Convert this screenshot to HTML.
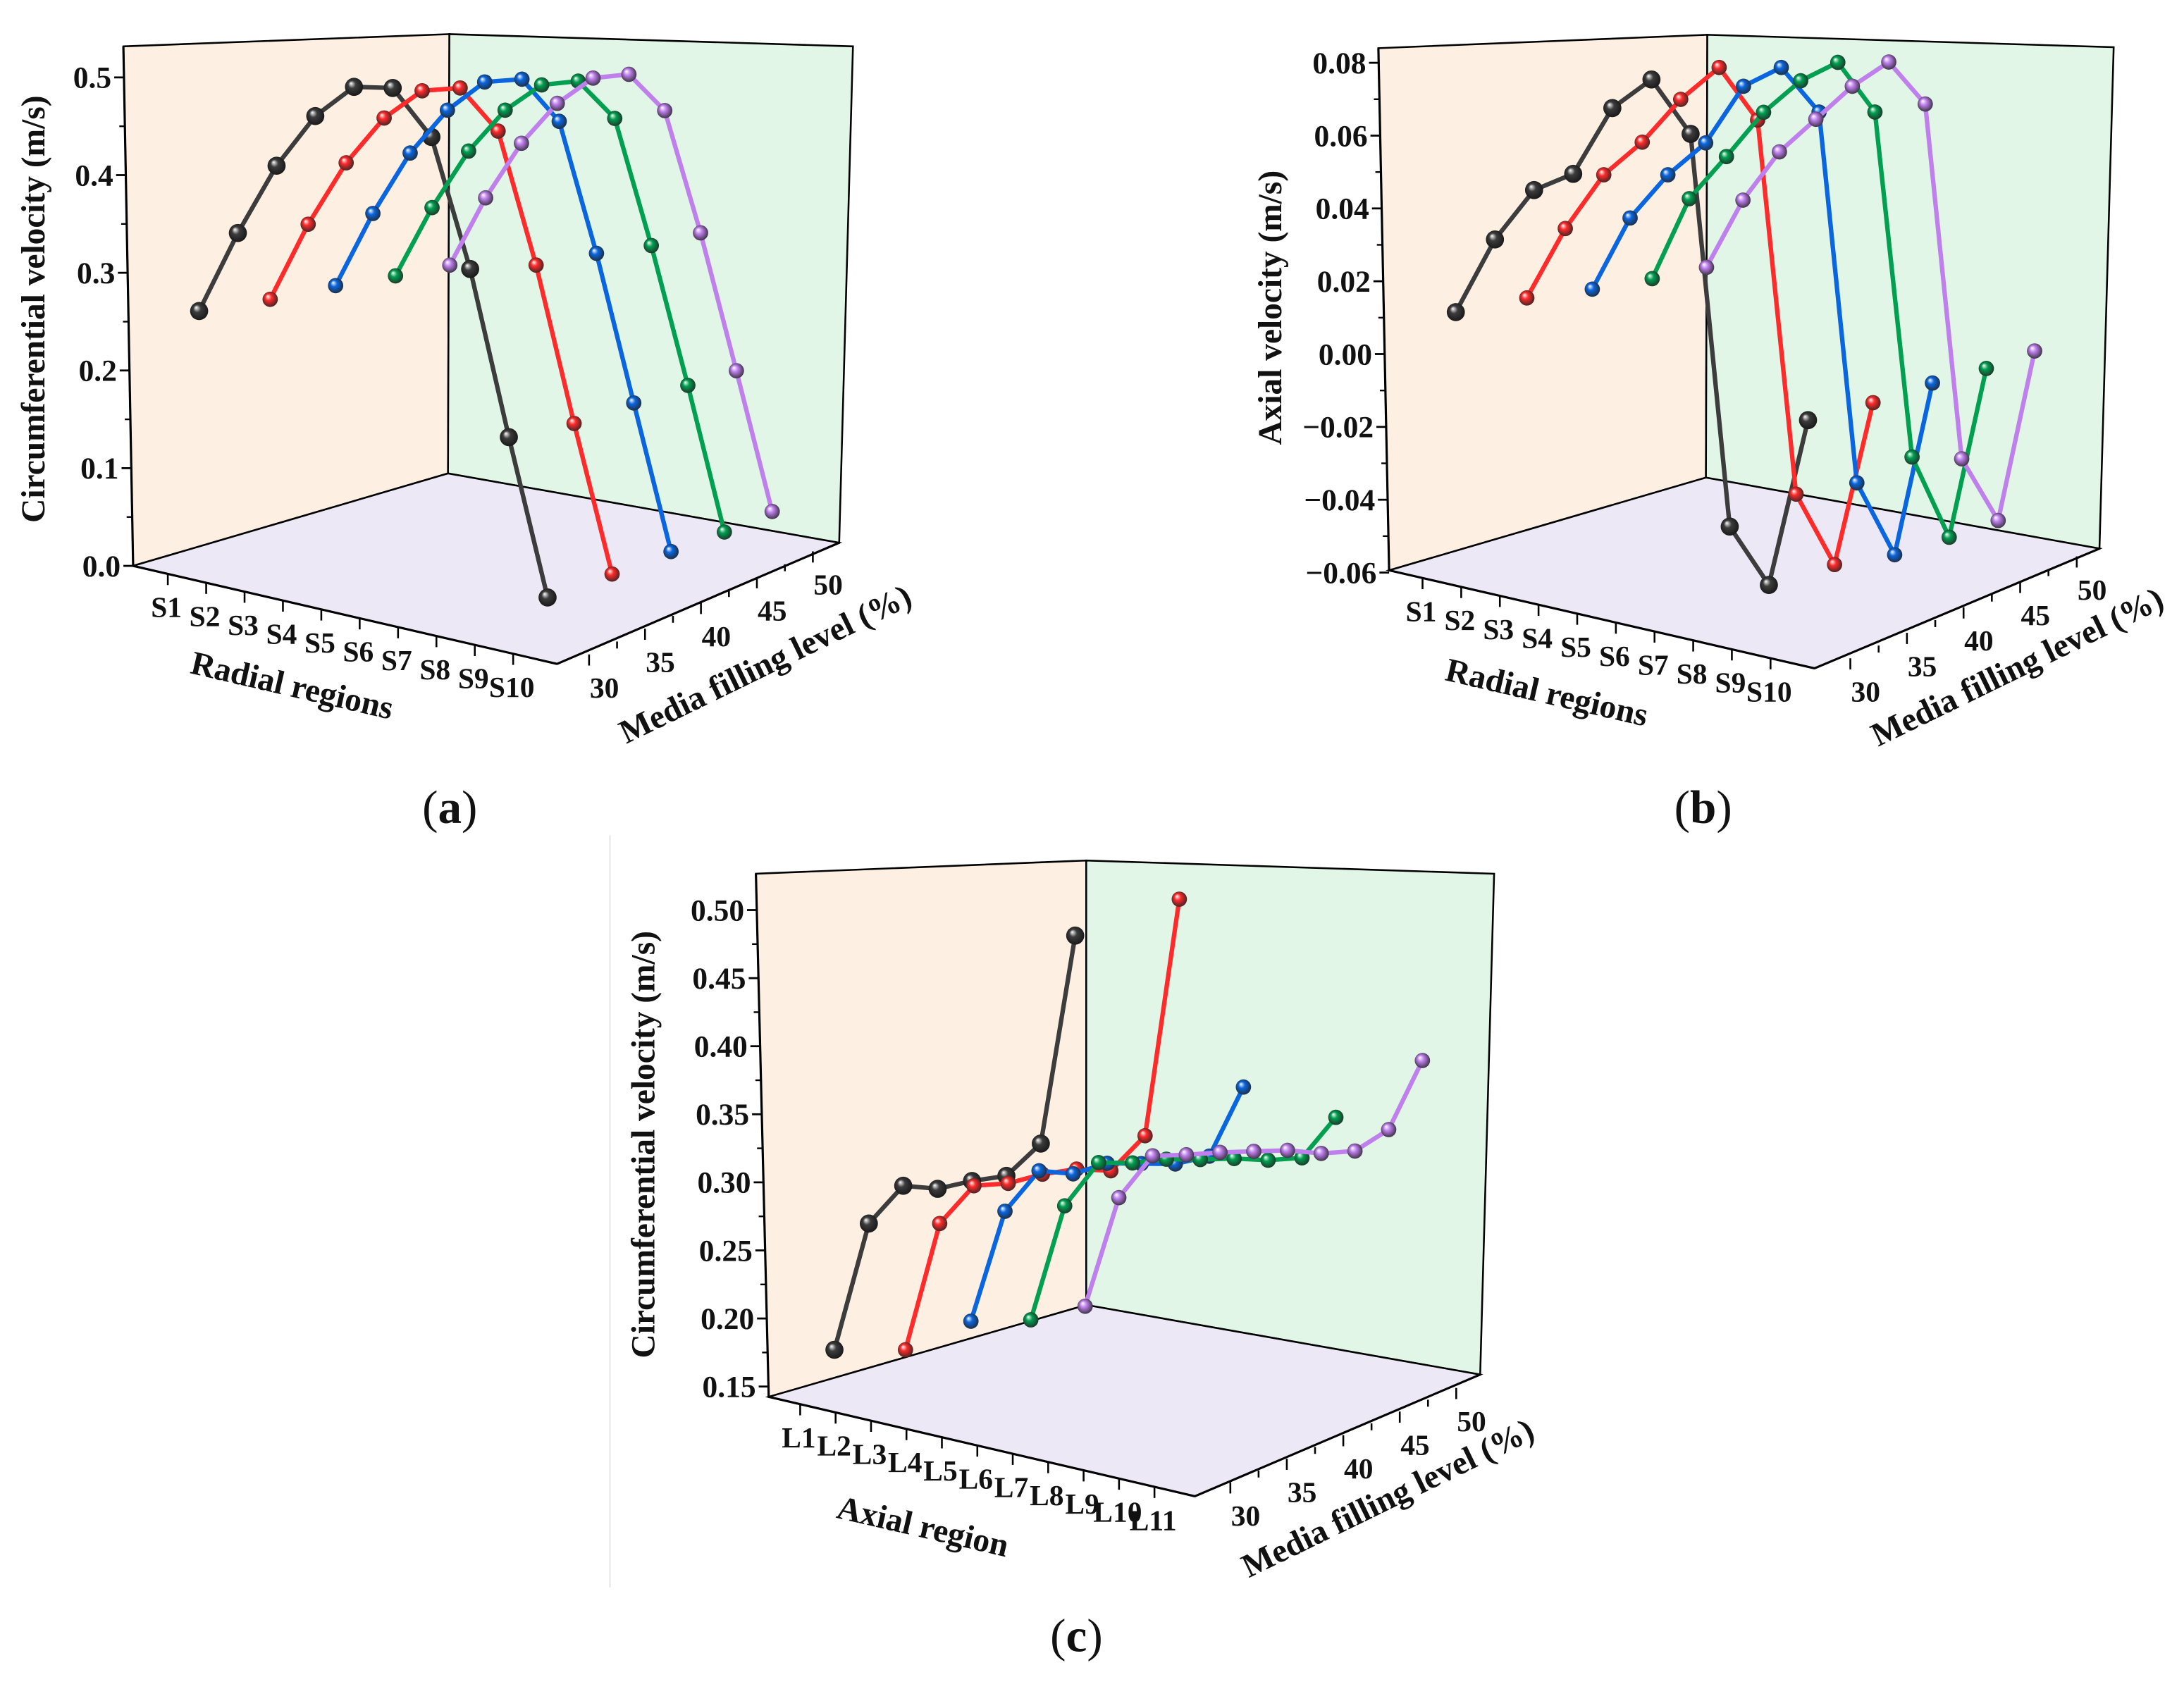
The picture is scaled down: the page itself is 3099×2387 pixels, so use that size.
<!DOCTYPE html>
<html><head><meta charset="utf-8"><style>
html,body{margin:0;padding:0;background:#fff;}
svg{display:block;}
text{font-family:"Liberation Serif",serif;fill:#111;}
</style></head><body>
<svg id="fig" width="3099" height="2387" viewBox="0 0 1568.3 1208" preserveAspectRatio="none" xmlns="http://www.w3.org/2000/svg">
<defs id="defs"></defs>
<line x1="438" y1="600" x2="438" y2="1140" stroke="#e4e4e4" stroke-width="1"/>
<g id="root"></g>
</svg>
<script>
// ---------- data ----------
const fillLevels = ['30','35','40','45','50'];
const catsA = ['S1','S2','S3','S4','S5','S6','S7','S8','S9','S10'];
const catsB = ['S1','S2','S3','S4','S5','S6','S7','S8','S9','S10'];
const catsC = ['L1','L2','L3','L4','L5','L6','L7','L8','L9','L10','L11'];

const a_f30 = [0.266,0.349,0.421,0.475,0.508,0.510,0.463,0.331,0.162,0.001];
const a_f35 = [0.278,0.358,0.424,0.473,0.504,0.510,0.469,0.335,0.176,0.025];
const a_f40 = [0.292,0.369,0.434,0.481,0.513,0.519,0.479,0.347,0.197,0.048];
const a_f45 = [0.302,0.375,0.436,0.481,0.510,0.517,0.482,0.355,0.215,0.068];
const a_f50 = [0.313,0.385,0.444,0.488,0.517,0.524,0.490,0.368,0.230,0.089];

const b_f30 = [0.0121,0.0329,0.0473,0.0526,0.0715,0.0802,0.0661,-0.0409,-0.0561,-0.0100];
const b_f35 = [0.0160,0.0359,0.0515,0.0613,0.0739,0.0835,0.0699,-0.0320,-0.0505,-0.0052];
const b_f40 = [0.0184,0.0388,0.0515,0.0611,0.0775,0.0835,0.0721,-0.0289,-0.0478,0.0002];
const b_f45 = [0.0213,0.0441,0.0565,0.0695,0.0790,0.0849,0.0721,-0.0218,-0.0430,0.0042];
const b_f50 = [0.0244,0.0437,0.0578,0.0676,0.0775,0.0850,0.0743,-0.0223,-0.0384,0.0090];

const c_f30 = [0.177,0.272,0.302,0.302,0.310,0.316,0.342,0.497];
const c_f35 = [0.177,0.272,0.302,0.306,0.315,0.321,0.322,0.350,0.526];
const c_f40 = [0.198,0.281,0.313,0.313,0.323,0.325,0.327,0.335,0.388];
const c_f45 = [0.199,0.285,0.319,0.321,0.326,0.328,0.331,0.332,0.336,0.368];
const c_f50 = [0.209,0.291,0.324,0.327,0.331,0.334,0.337,0.337,0.341,0.359,0.412];

const yTicksA = ['0.0','0.1','0.2','0.3','0.4','0.5'];
const yTicksB = ['-0.06','-0.04','-0.02','0.00','0.02','0.04','0.06','0.08'];
const yTicksC = ['0.15','0.20','0.25','0.30','0.35','0.40','0.45','0.50'];

// ---------- drawing ----------
const NS='http://www.w3.org/2000/svg';
const root=document.getElementById('root');
const defs=document.getElementById('defs');
const colors=['#3c3c3c','#ff2a2a','#0a66e0','#00a050','#bf80ee'];
const seriesNames=['series-30','series-35','series-40','series-45','series-50'];
function el(tag,attrs,parent){const e=document.createElementNS(NS,tag);for(const k in attrs)e.setAttribute(k,attrs[k]);(parent||root).appendChild(e);return e;}
colors.forEach((c,k)=>{
  const g=el('radialGradient',{id:'sph'+k,cx:'0.5',cy:'0.5',r:'0.6',fx:'0.33',fy:'0.3'},defs);
  el('stop',{offset:'0','stop-color':'#ffffff'},g);
  el('stop',{offset:'0.35','stop-color':c},g);
  el('stop',{offset:'1','stop-color':k===0?'#111':'#222'},g);
});
function lerp(p,q,t){return [p[0]+(q[0]-p[0])*t,p[1]+(q[1]-p[1])*t];}
function unary(s){return s.replace('-','\u2212');}

function panel(P){
  const g=el('g',{});
  
  
  const poly=(pts,fill,name)=>{const p=el('polygon',{points:pts.map(q=>q.join(',')).join(' '),fill:fill,stroke:'#000','stroke-width':1.3},g);};
  poly([P.TL,P.BT,P.BB,P.BL],'#fdf0e3','left-wall');
  poly([P.BT,P.RT,P.RB,P.BB],'#e1f6e7','right-wall');
  poly([P.BL,P.BB,P.RB,P.FR],'#ece8f6','floor');
  const yv=v=>P.axZeroY-(v-P.vref)*P.scale;
  const axX=y=>P.BL[0]+(P.TL[0]-P.BL[0])*(P.BL[1]-y)/(P.BL[1]-P.TL[1]);
  const ya=el('line',{x1:P.BL[0],y1:P.BL[1],x2:P.TL[0],y2:P.TL[1],stroke:'#000','stroke-width':1.6},g);
  
  P.yTicks.forEach((t,k)=>{
    const v=parseFloat(t), y=yv(v), x=axX(y);
    const tl=el('line',{x1:x,y1:y,x2:x-7,y2:y,stroke:'#000','stroke-width':1.4},g);
    
    const tx=el('text',{x:x-9,y:y+7.5,'text-anchor':'end','font-size':22,'font-weight':'bold'},g);
    tx.textContent=unary(t);
    
    if(k<P.yTicks.length-1){const y2=yv(v+P.ystep/2),x2=axX(y2);
      const m=el('line',{x1:x2,y1:y2,x2:x2-4,y2:y2,stroke:'#000','stroke-width':1.2},g);
      }
  });
  const yt=el('text',{x:P.yTitle[0],y:P.yTitle[1],'text-anchor':'middle','font-size':24,'font-weight':'bold',transform:`rotate(-90 ${P.yTitle[0]} ${P.yTitle[1]})`},g);
  yt.textContent=P.yLabel;
  const xa=el('line',{x1:P.BL[0],y1:P.BL[1],x2:P.FR[0],y2:P.FR[1],stroke:'#000','stroke-width':1.6},g);
  
  const edgeY=x=>P.BL[1]+(P.FR[1]-P.BL[1])*(x-P.BL[0])/(P.FR[0]-P.BL[0]);
  const n=P.cats.length;
  P.cats.forEach((c,i)=>{
    const x=P.catT0+(P.catT1-P.catT0)*i/(n-1), y=edgeY(x);
    const tl=el('line',{x1:x,y1:y,x2:x,y2:y+8,stroke:'#000','stroke-width':1.3},g);
    
    const tx=el('text',{x:x-1,y:y+31,'text-anchor':'middle','font-size':21,'font-weight':'bold'},g);
    tx.textContent=c;
  });
  const xt=el('text',{x:P.xTitle[0],y:P.xTitle[1],'text-anchor':'middle','font-size':24,'font-weight':'bold',transform:`rotate(${P.xRot} ${P.xTitle[0]} ${P.xTitle[1]})`},g);
  xt.textContent=P.xLabel;
  const fa=el('line',{x1:P.FR[0],y1:P.FR[1],x2:P.RB[0],y2:P.RB[1],stroke:'#000','stroke-width':1.6},g);
  
  for(let k=0;k<=8;k++){
    const p=lerp(P.F30,P.F50,k/8);
    const tl=el('line',{x1:p[0],y1:p[1],x2:p[0],y2:p[1]+(k%2?5:8),stroke:'#000','stroke-width':1.3},g);
    
  }
  fillLevels.forEach((f,k)=>{
    const p=lerp(P.F30,P.F50,k/4);
    const tx=el('text',{x:p[0]+11,y:p[1]+31,'text-anchor':'middle','font-size':21,'font-weight':'bold'},g);
    tx.textContent=f;
  });
  const ft=el('text',{x:P.fTitle[0],y:P.fTitle[1],'text-anchor':'middle','font-size':24,'font-weight':'bold',transform:`rotate(-26 ${P.fTitle[0]} ${P.fTitle[1]})`},g);
  ft.textContent='Media filling level (%)';
  const px=(s,i)=>P.x0+53*s-2*s*s+i*(P.step-P.shrink*s);
  const py=(i,v)=>P.zeroY+P.shift*i-(v-P.vref)*P.scale;
  P.series.forEach((arr,s)=>{
    const sg=el('g',{},g);
    
    const pts=arr.map((v,i)=>[px(s,i),py(i,v)]);
    const pl=el('polyline',{points:pts.map(p=>p.join(',')).join(' '),fill:'none',stroke:colors[s],'stroke-width':3.2,'stroke-linejoin':'round'},sg);
    
    pts.forEach(p=>{
      const c=el('circle',{cx:p[0],cy:p[1],r:s===0?6.5:5.5,fill:`url(#sph${s})`},sg);
      
    });
  });
  const lb=el('text',{x:P.lab[0],y:P.lab[1],'text-anchor':'middle','font-size':34},g);
  lb.innerHTML='(<tspan font-weight="bold">'+P.labText+'</tspan>)';
  
}

panel({name:'panel-a',TL:[88.6,33.3],BT:[322.7,24.5],BB:[321.7,340],BL:[95.6,406.4],RT:[612.5,33.3],RB:[602.6,389.8],FR:[400,476.8],
  axZeroY:406.4,vref:0,scale:701.6,ystep:0.1,yTicks:yTicksA,yLabel:'Circumferential velocity (m/s)',yTitle:[32,222],
  cats:catsA,catT0:120.5,catT1:368.5,xLabel:'Radial regions',xTitle:[208,500],xRot:13,
  F30:[423,470],F50:[583.7,396],fTitle:[553,484],
  x0:143,step:27.8,shrink:0.52,zeroY:410,shift:2.2,series:[a_f30,a_f35,a_f40,a_f45,a_f50],lab:[323,591],labText:'a'});

panel({name:'panel-b',TL:[989.8,34.6],BT:[1226,25],BB:[1225,343],BL:[997.5,409.6],RT:[1517.8,33.9],RB:[1507.6,394],FR:[1303,480],
  axZeroY:254.3,vref:0,scale:2615,ystep:0.02,yTicks:yTicksB,yLabel:'Axial velocity (m/s)',yTitle:[920,221],
  cats:catsB,catT0:1021.5,catT1:1271.4,xLabel:'Radial regions',xTitle:[1109,505],xRot:13,
  F30:[1328.7,472.8],F50:[1491.3,399.6],fTitle:[1452,486],
  x0:1045.4,step:28.1,shrink:0.48,zeroY:255.8,shift:2.2,series:[b_f30,b_f35,b_f40,b_f45,b_f50],lab:[1223,591],labText:'b'});

panel({name:'panel-c',TL:[542.8,627.5],BT:[780,618],BB:[780,937.2],BL:[552,1003.2],RT:[1072.9,627.5],RB:[1062.9,987.2],FR:[858,1074.6],
  axZeroY:995.8,vref:0.15,scale:977.7,ystep:0.05,yTicks:yTicksC,yLabel:'Circumferential velocity (m/s)',yTitle:[470,822],
  cats:catsC,catT0:574.6,catT1:829,xLabel:'Axial region',xTitle:[661,1104],xRot:13,
  F30:[883.5,1064.6],F50:[1045.7,996.8],fTitle:[1000,1083],
  x0:599.2,step:24.7,shrink:0.12,zeroY:995.8,shift:2.2,series:[c_f30,c_f35,c_f40,c_f45,c_f50],lab:[773,1186],labText:'c'});
</script>
</body></html>
